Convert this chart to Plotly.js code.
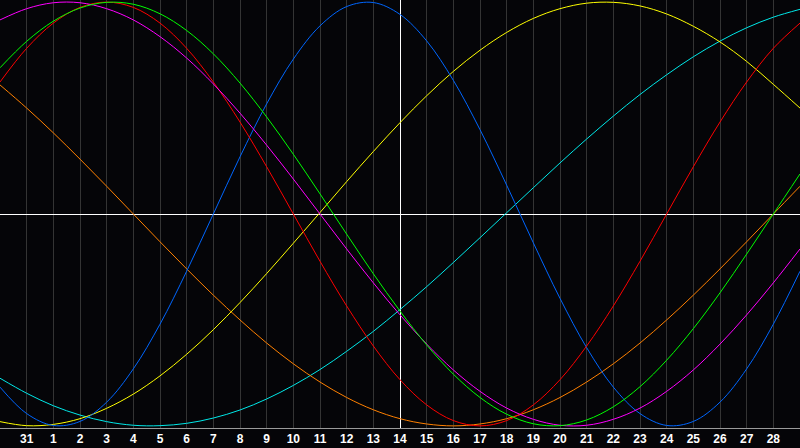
<!DOCTYPE html>
<html>
<head>
<meta charset="utf-8">
<script src="https://cdn.plot.ly/plotly-3.0.1.min.js"></script>
<style>html,body{margin:0;padding:0;background:#050508;}#chart{width:800px;height:448px;}</style>
</head>
<body>
<div id="chart"></div>
<script>
// day offsets relative to the marked day (14)
const days = [-15,-14,-13,-12,-11,-10,-9,-8,-7,-6,-5,-4,-3,-2,-1,0,1,2,3,4,5,6,7,8,9,10,11,12,13,14,15];
const tickPos = [-14,-13,-12,-11,-10,-9,-8,-7,-6,-5,-4,-3,-2,-1,0,1,2,3,4,5,6,7,8,9,10,11,12,13,14];
const tickLabels = ["31","1","2","3","4","5","6","7","8","9","10","11","12","13","14","15","16","17","18","19","20","21","22","23","24","25","26","27","28"];

const blueVals = [-0.817,-0.942,-0.998,-0.979,-0.888,-0.731,-0.520,-0.270,0.000,0.270,0.520,0.731,0.888,0.979,0.998,0.942,0.817,0.631,0.398,0.136,-0.136,-0.398,-0.631,-0.817,-0.942,-0.998,-0.979,-0.888,-0.731,-0.520,-0.270];
const redVals = [0.623,0.782,0.901,0.975,1.000,0.975,0.901,0.782,0.623,0.434,0.223,0.000,-0.223,-0.434,-0.623,-0.782,-0.901,-0.975,-1.000,-0.975,-0.901,-0.782,-0.623,-0.434,-0.223,0.000,0.223,0.434,0.623,0.782,0.901];
const greenVals = [0.690,0.815,0.910,0.972,0.999,0.990,0.945,0.866,0.756,0.618,0.458,0.282,0.095,-0.095,-0.282,-0.458,-0.618,-0.756,-0.866,-0.945,-0.990,-0.999,-0.972,-0.910,-0.815,-0.690,-0.541,-0.372,-0.189,0.000,0.189];
const magentaVals = [0.916,0.969,0.997,0.997,0.969,0.916,0.837,0.736,0.614,0.476,0.325,0.165,0.000,-0.165,-0.325,-0.476,-0.614,-0.736,-0.837,-0.916,-0.969,-0.997,-0.997,-0.969,-0.916,-0.837,-0.736,-0.614,-0.476,-0.325,-0.165];
const yellowVals = [-0.980,-0.999,-0.993,-0.966,-0.917,-0.850,-0.764,-0.662,-0.546,-0.418,-0.281,-0.138,0.007,0.153,0.295,0.431,0.558,0.673,0.773,0.857,0.923,0.969,0.995,0.999,0.982,0.944,0.886,0.812,0.720,0.612,0.500];
const orangeVals = [0.609,0.500,0.383,0.259,0.131,0.000,-0.131,-0.259,-0.383,-0.500,-0.609,-0.707,-0.793,-0.866,-0.924,-0.966,-0.991,-1.000,-0.991,-0.966,-0.924,-0.866,-0.793,-0.707,-0.609,-0.500,-0.383,-0.259,-0.131,0.000,0.131];
const cyanVals = [-0.775,-0.846,-0.905,-0.949,-0.980,-0.997,-0.999,-0.988,-0.963,-0.925,-0.873,-0.809,-0.734,-0.648,-0.554,-0.451,-0.343,-0.229,-0.112,0.006,0.124,0.241,0.354,0.462,0.564,0.657,0.742,0.816,0.879,0.929,0.966];

const series = [
  {vals: cyanVals, color: '#00e8e8'},
  {vals: orangeVals, color: '#ff8000'},
  {vals: yellowVals, color: '#ffff00'},
  {vals: blueVals, color: '#0066ff'},
  {vals: redVals, color: '#ff0000'},
  {vals: magentaVals, color: '#ff00ff'},
  {vals: greenVals, color: '#00ff00'}
];

const traces = series.map(s => ({
  x: days, y: s.vals, type: 'scatter', mode: 'lines',
  line: {color: s.color, width: 1, shape: 'spline', smoothing: 1},
  hoverinfo: 'skip'
}));

const layout = {
  width: 800, height: 448,
  margin: {l: 0, r: 0, t: 0, b: 20, pad: 0},
  paper_bgcolor: '#050508', plot_bgcolor: '#050508',
  showlegend: false,
  xaxis: {
    range: [-15, 15], tickmode: 'array', tickvals: tickPos, ticktext: tickLabels,
    showgrid: true, gridcolor: '#343434', gridwidth: 1,
    zeroline: true, zerolinecolor: '#ffffff', zerolinewidth: 1,
    showline: true, mirror: true, linecolor: '#9a9a9a', linewidth: 1,
    ticks: '', ticklen: 0,
    tickfont: {family: 'Liberation Sans, Arial, sans-serif', size: 12, color: '#ffffff', weight: 'bold'},
    fixedrange: true
  },
  yaxis: {
    range: [-1.01, 1.01], showticklabels: false, ticks: '',
    showgrid: false,
    zeroline: true, zerolinecolor: '#ffffff', zerolinewidth: 1,
    showline: true, mirror: true, linecolor: '#9a9a9a', linewidth: 1,
    fixedrange: true
  }
};

Plotly.newPlot('chart', traces, layout, {staticPlot: true, displayModeBar: false});
</script>
</body>
</html>
